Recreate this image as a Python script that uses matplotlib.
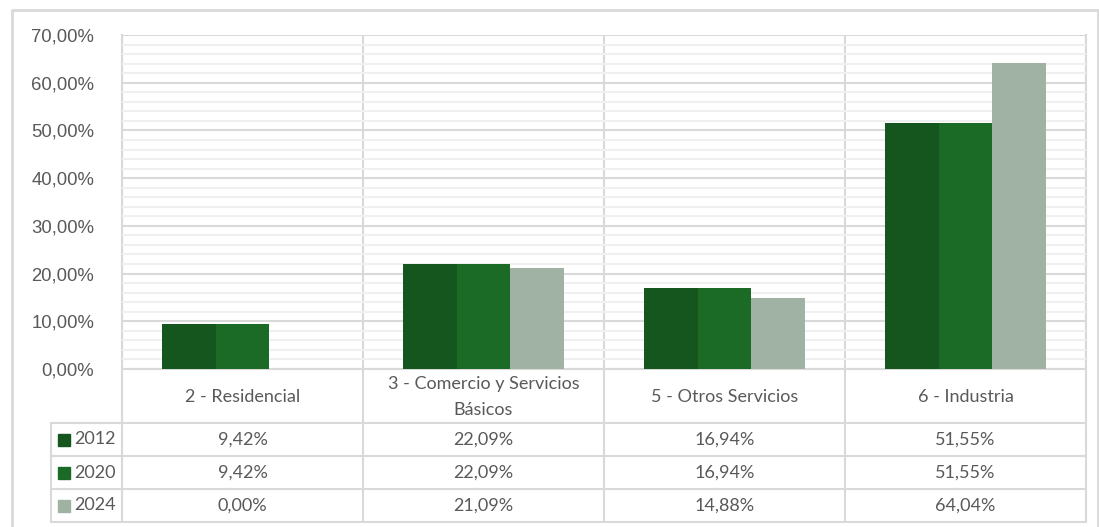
import matplotlib.pyplot as plt
from matplotlib.patches import Rectangle

# Share of each sector per year
categories = ["2 - Residencial", "3 - Comercio y Servicios\nBásicos", "5 - Otros Servicios", "6 - Industria"]
years = ["2012", "2020", "2024"]
v2012 = [9.42, 22.09, 16.94, 51.55]
v2020 = [9.42, 22.09, 16.94, 51.55]
v2024 = [0.00, 21.09, 14.88, 64.04]
yticks = [0, 10, 20, 30, 40, 50, 60, 70]

colors = ["#15561E", "#1B6B27", "#A0B2A4"]
series = [v2012, v2020, v2024]
txt = "#595959"
grid_major = "#D9D9D9"
grid_minor = "#F0F0F0"

W, H = 1099, 527
fig = plt.figure(figsize=(W / 100, H / 100), dpi=100)

# pixel layout of the plot area
left, right, top, bottom = 122, 1086, 35, 369
ax = fig.add_axes([left / W, 1 - bottom / H, (right - left) / W, (bottom - top) / H])

n = len(categories)
bw = 0.224
for k, vals in enumerate(series):
    xs = [i + (k - 1) * bw for i in range(n)]
    ax.bar(xs, vals, width=bw, color=colors[k], zorder=3)

ax.set_xlim(-0.5, n - 0.5)
ax.set_ylim(0, 70)
ax.set_yticks(yticks)
ax.set_yticklabels([f"{t:.2f}%".replace(".", ",") for t in yticks],
                   fontsize=13.3, color=txt, family="Liberation Sans")
ax.set_yticks([y for y in range(0, 71, 2) if y % 10], minor=True)
ax.tick_params(axis="y", which="both", length=0, pad=20)
ax.tick_params(axis="x", length=0, labelbottom=False)
ax.grid(axis="y", which="minor", color=grid_minor, lw=1.5, zorder=0)
ax.grid(axis="y", which="major", color=grid_major, lw=1.5, zorder=1)
for i in range(n + 1):
    ax.axvline(i - 0.5, color=grid_major, lw=1.5, zorder=1)
for s in ax.spines.values():
    s.set_visible(False)
ax.set_facecolor("none")

# overlay in pixel coordinates for the data table and outer frame
ov = fig.add_axes([0, 0, 1, 1], zorder=-1)
ov.set_xlim(0, W)
ov.set_ylim(H, 0)
ov.axis("off")

# chart frame
ov.plot([12, 12, 1098, 1098], [H + 5, 10, 10, H + 5], color="#D9D9D9", lw=2)

col_w = (right - left) / n
row_lines = [bottom, 423, 456, 489, 522]
leg_left = 51
lc = dict(color=grid_major, lw=1.5)

for y in row_lines:
    x0 = left if y == bottom else leg_left
    ov.plot([x0, right], [y, y], **lc)
for i in range(n + 1):
    x = left + i * col_w
    y0 = top if i in (0, n) else bottom
    ov.plot([x, x], [y0, row_lines[-1]], **lc)
ov.plot([leg_left, leg_left], [row_lines[1], row_lines[-1]], **lc)

tfont = dict(family="Lato", fontsize=13, color=txt, ha="center", va="center")
for i, c in enumerate(categories):
    ov.text(left + (i + 0.5) * col_w, (bottom + row_lines[1]) / 2 + 1, c,
            linespacing=1.8, **tfont)

for r, (yr, vals) in enumerate(zip(years, series)):
    yc = (row_lines[r + 1] + row_lines[r + 2]) / 2
    ov.add_patch(Rectangle((58, yc - 6), 12, 12, color=colors[r]))
    ov.text(74, yc, yr, family="Lato", fontsize=13, color=txt, va="center", ha="left")
    for i, v in enumerate(vals):
        ov.text(left + (i + 0.5) * col_w, yc, f"{v:.2f}%".replace(".", ","), **tfont)

fig.savefig("out.png", dpi=100, facecolor="white")
